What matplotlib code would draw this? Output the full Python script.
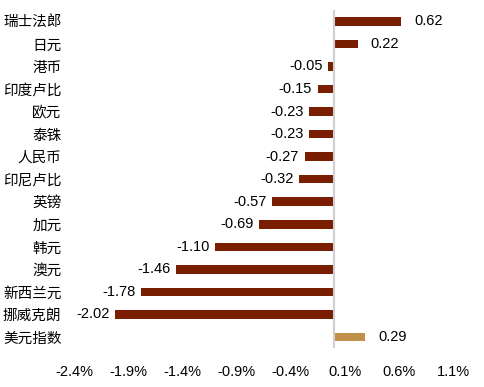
import numpy as np
import matplotlib.pyplot as plt
import matplotlib
matplotlib.rcParams['font.family'] = ['Liberation Sans', 'Noto Sans CJK SC', 'DejaVu Sans']

categories = ['瑞士法郎', '日元', '港币', '印度卢比', '欧元', '泰铢', '人民币', '印尼卢比',
              '英镑', '加元', '韩元', '澳元', '新西兰元', '挪威克朗', '美元指数']
values = [0.62, 0.22, -0.05, -0.15, -0.23, -0.23, -0.27, -0.32,
          -0.57, -0.69, -1.10, -1.46, -1.78, -2.02, 0.29]
xticks = [-2.4, -1.9, -1.4, -0.9, -0.4, 0.1, 0.6, 1.1]

colors = ['#7a1e02'] * (len(values) - 1) + ['#c08f4a']

fig = plt.figure(figsize=(4.85, 3.87), dpi=100, facecolor='white')
ax = fig.add_axes([0.1526, 0.10, 0.7814, 0.874])

y = np.arange(len(values))
ax.barh(y, values, height=0.38, color=colors)
ax.set_ylim(len(values) - 0.5, -0.5)
ax.set_xlim(-2.4, 1.1)

for yi, v in zip(y, values):
    if v >= 0:
        ax.text(v + 0.12, yi, '%.2f' % v, ha='left', va='center', fontsize=10.5)
    else:
        ax.text(v - 0.05, yi, '%.2f' % v, ha='right', va='center', fontsize=10.5)

ax.axvline(0, color='#d0d0d0', linewidth=1.5)
ax.set_yticks(y)
ax.set_yticklabels(categories, fontsize=10.5, family=['Noto Sans CJK SC'])
ax.set_xticks(xticks)
ax.set_xticklabels(['%.1f%%' % t for t in xticks], fontsize=10.5)
ax.tick_params(axis='x', length=0, pad=12)
ax.tick_params(axis='y', length=0, pad=9)
for s in ax.spines.values():
    s.set_visible(False)

plt.savefig('out.png', dpi=100)
